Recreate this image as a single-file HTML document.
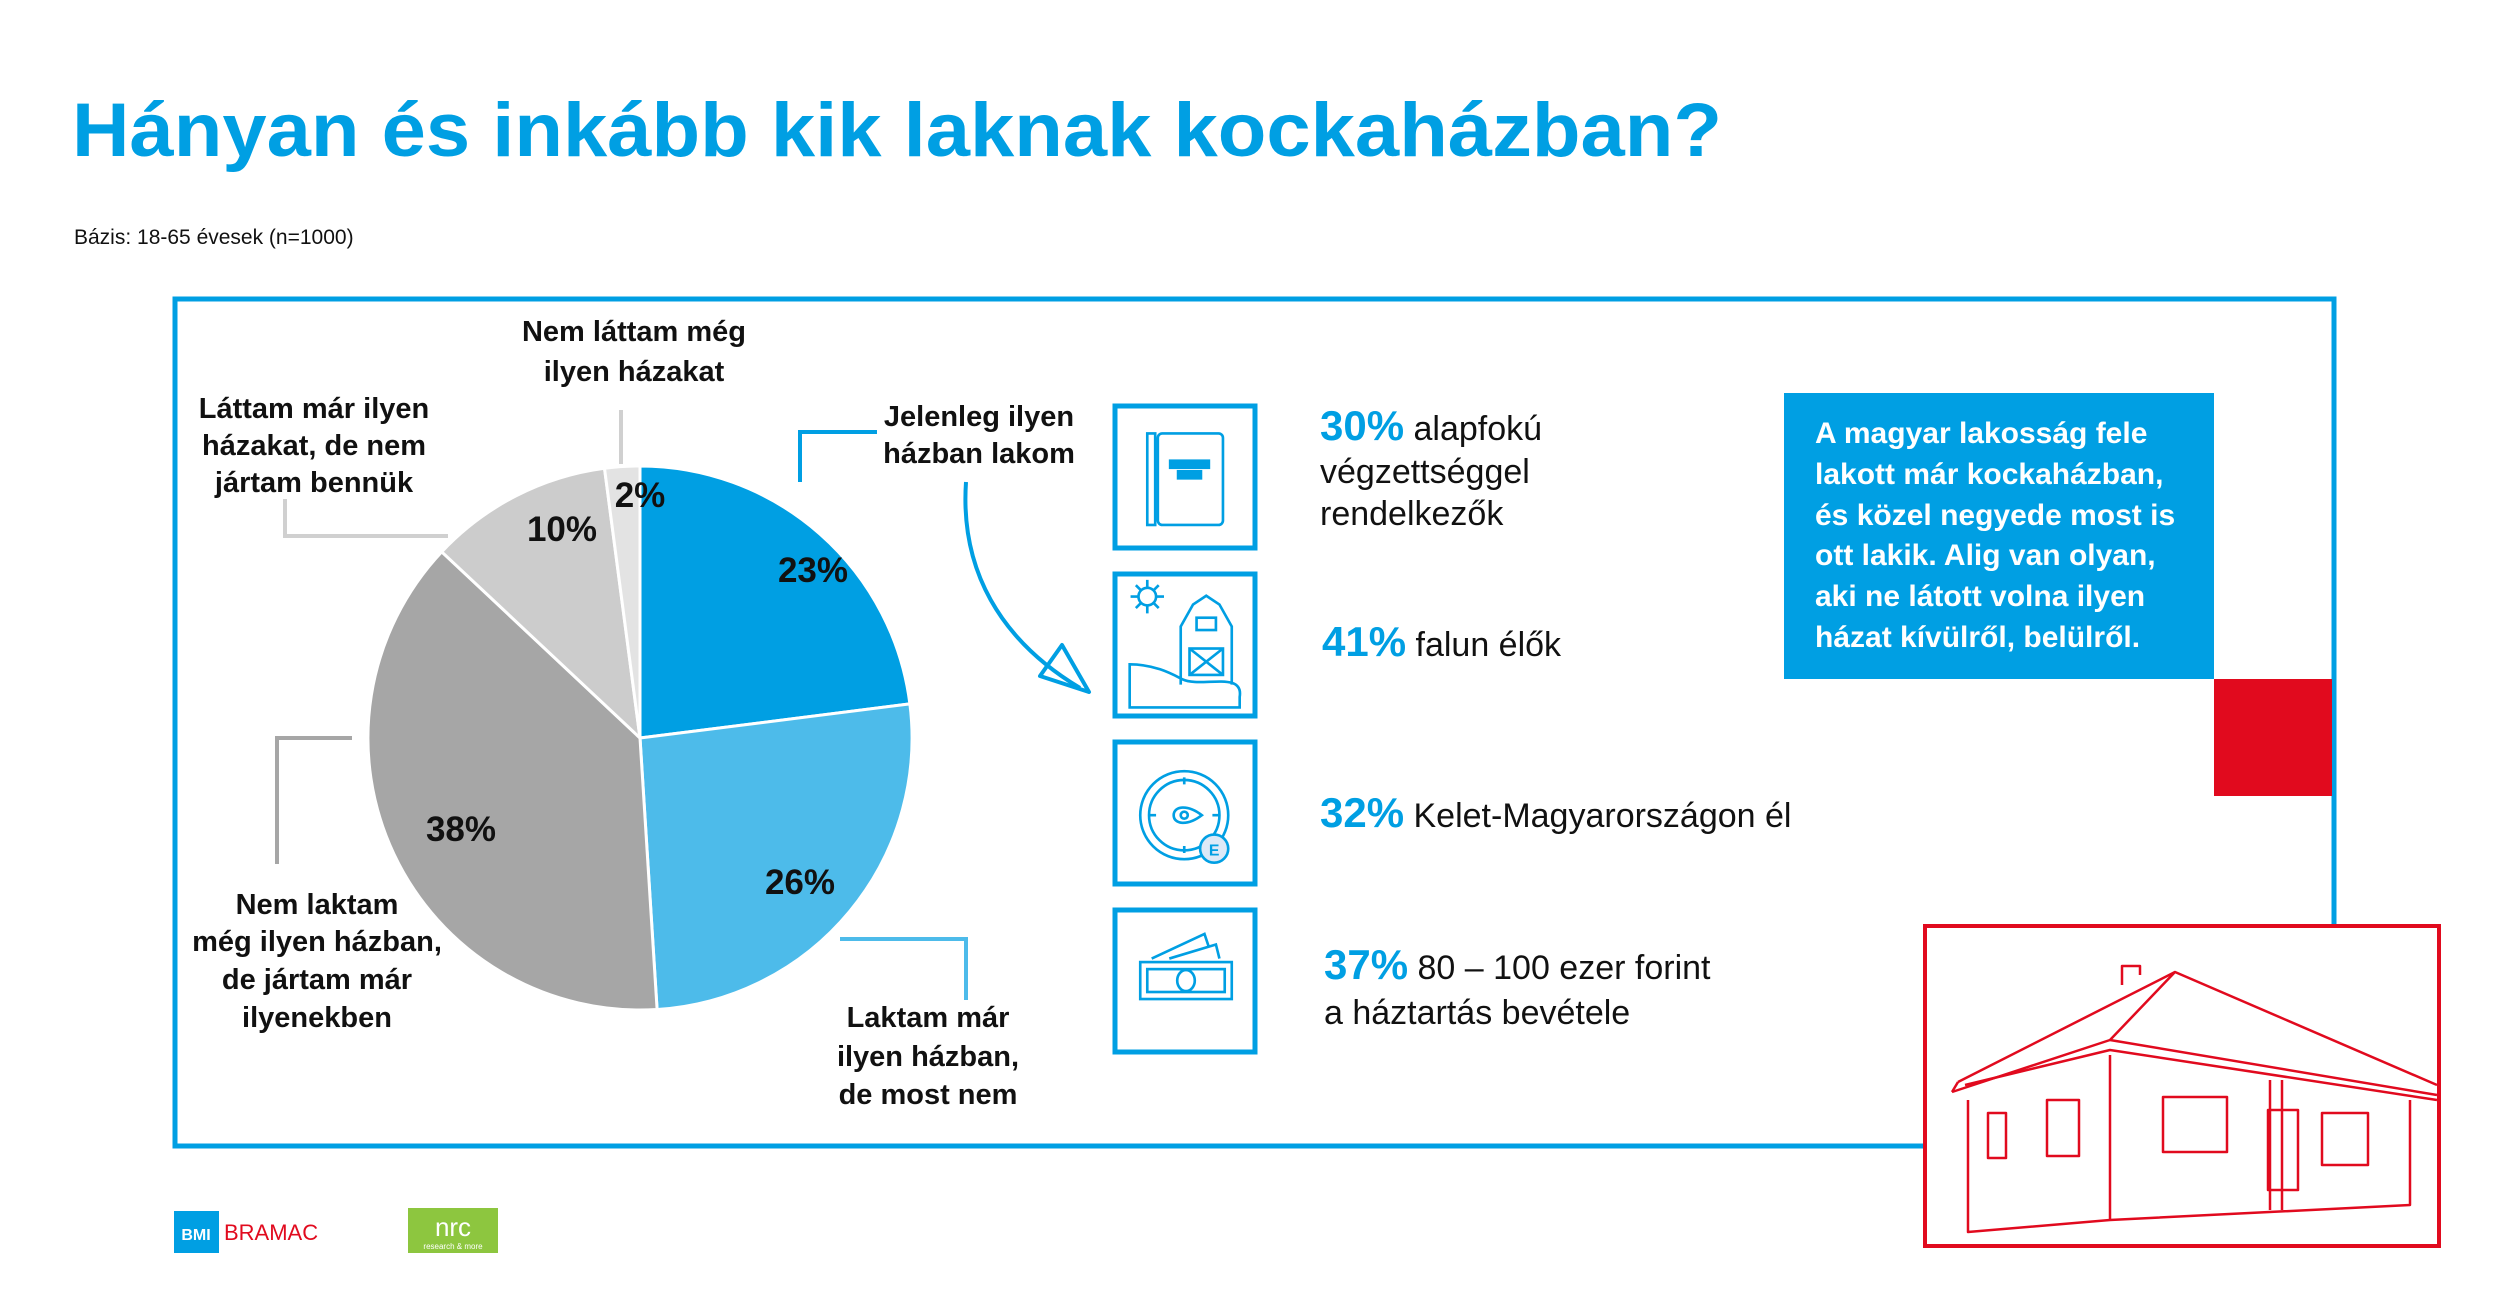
<!DOCTYPE html>
<html><head><meta charset="utf-8"><style>
html,body{margin:0;padding:0;background:#fff}
svg{display:block}
text{font-family:"Liberation Sans",sans-serif}
</style></head><body>
<svg width="2500" height="1313" viewBox="0 0 2500 1313" xmlns="http://www.w3.org/2000/svg">
<rect width="2500" height="1313" fill="#fff"/>
<text x="72" y="156" font-size="76" font-weight="bold" fill="#009FE3" textLength="1650" lengthAdjust="spacingAndGlyphs">Hányan és inkább kik laknak kockaházban?</text>
<text x="74" y="244" font-size="21" fill="#111">Bázis: 18-65 évesek (n=1000)</text>

<!-- frame -->
<polyline points="1926,1146 175,1146 175,299 2334,299 2334,926" fill="none" stroke="#009FE3" stroke-width="5"/>

<!-- pie -->
<g stroke="#fff" stroke-width="3" stroke-linejoin="round">
<path d="M640,738 L640,466 A272,272 0 0 1 909.9,703.9 Z" fill="#009FE3"/>
<path d="M640,738 L909.9,703.9 A272,272 0 0 1 657.1,1009.5 Z" fill="#4DBBEA"/>
<path d="M640,738 L657.1,1009.5 A272,272 0 0 1 441.7,551.8 Z" fill="#A6A6A6"/>
<path d="M640,738 L441.7,551.8 A272,272 0 0 1 604.5,468.3 Z" fill="#CCCCCC"/>
<path d="M640,738 L604.5,468.3 A272,272 0 0 1 640,466 Z" fill="#E3E3E3"/>
</g>
<g font-size="35" font-weight="bold" fill="#111" text-anchor="middle">
<text x="813" y="582">23%</text>
<text x="800" y="894">26%</text>
<text x="461" y="841">38%</text>
<text x="562" y="541">10%</text>
<text x="640" y="507">2%</text>
</g>

<!-- callouts -->
<g font-size="29" font-weight="bold" fill="#111" text-anchor="middle">
<text x="634" y="341">Nem láttam még</text><text x="634" y="381">ilyen házakat</text>
<text x="314" y="418">Láttam már ilyen</text><text x="314" y="455">házakat, de nem</text><text x="314" y="492">jártam bennük</text>
<text x="979" y="426">Jelenleg ilyen</text><text x="979" y="463">házban lakom</text>
<text x="317" y="914">Nem laktam</text><text x="317" y="951">még ilyen házban,</text><text x="317" y="989">de jártam már</text><text x="317" y="1027">ilyenekben</text>
<text x="928" y="1027">Laktam már</text><text x="928" y="1066">ilyen házban,</text><text x="928" y="1104">de most nem</text>
</g>
<g fill="none" stroke-width="4">
<line x1="621" y1="410" x2="621" y2="464" stroke="#d0d0d0"/>
<polyline points="285,499 285,536 448,536" stroke="#d0d0d0"/>
<polyline points="800,482 800,432 877,432" stroke="#009FE3"/>
<polyline points="277,864 277,738 352,738" stroke="#A6A6A6"/>
<polyline points="840,939 966,939 966,1000" stroke="#4DBBEA"/>
<path d="M966,482 C960,570 1000,640 1080,688" stroke="#009FE3"/>
<path d="M1089,692 L1040,676 L1062,645 Z" stroke="#009FE3" stroke-linejoin="round"/>
</g>

<!-- icon boxes -->
<g fill="none" stroke="#009FE3" stroke-width="5">
<rect x="1115" y="406" width="140" height="142"/>
<rect x="1115" y="574" width="140" height="142"/>
<rect x="1115" y="742" width="140" height="142"/>
<rect x="1115" y="910" width="140" height="142"/>
</g>
<g fill="none" stroke="#009FE3" stroke-width="3">
<g transform="translate(1186,477) scale(0.88) translate(-1184,-489.5)">
<rect x="1140" y="440" width="9" height="104"/>
<rect x="1152" y="440" width="74" height="104" rx="5"/>
<rect x="1166" y="471" width="44" height="8" fill="#009FE3"/>
<rect x="1175" y="483" width="26" height="8" fill="#009FE3"/>
</g>
<g transform="translate(1186,645) scale(0.88) translate(-1184,-681)">
<circle cx="1140" cy="626" r="10"/>
<path d="M1121,626h8M1151,626h8M1140,607v8M1140,637v8M1127,613l6,6M1147,633l6,6M1127,639l6,-6M1147,619l6,-6"/>
<path d="M1178,726 V660 L1192,635 L1207,625 L1222,635 L1236,660 V726"/>
<rect x="1196" y="650" width="22" height="14"/>
<rect x="1188" y="685" width="38" height="30"/>
<path d="M1188,685 L1226,715 M1226,685 L1188,715"/>
<path d="M1120,732 V703 C1150,703 1170,715 1180,720 C1200,730 1250,710 1245,740 V752 H1120 Z"/>
</g>
<g transform="translate(1186,813) scale(0.88) translate(-1184,-872.5)">
<circle cx="1182" cy="875" r="50"/><circle cx="1182" cy="875" r="40"/>
<path d="M1170,875 C1170,865 1185,862 1202,875 C1185,888 1170,885 1170,875 Z"/>
<circle cx="1182" cy="875" r="4"/>
<path d="M1182,832v8M1182,910v8M1142,875h8M1214,875h8"/>
<circle cx="1216" cy="913" r="16" fill="#dce9f7"/>
<text x="1216" y="921" font-size="18" font-weight="bold" fill="#009FE3" stroke="none" text-anchor="middle">E</text>
</g>
<g transform="translate(1186,981) scale(0.88) translate(-1184,-1063.5)">
<rect x="1132" y="1042" width="104" height="42"/>
<rect x="1140" y="1050" width="88" height="26"/>
<ellipse cx="1184" cy="1063" rx="10" ry="12"/>
<path d="M1145,1038 L1205,1010 L1210,1025 M1165,1038 L1218,1022 L1222,1038"/>
</g>
</g>

<!-- stats -->
<g font-size="34" fill="#111">
<text x="1320" y="440"><tspan font-weight="bold" font-size="42" fill="#009FE3">30%</tspan> alapfokú</text>
<text x="1320" y="483">végzettséggel</text>
<text x="1320" y="525">rendelkezők</text>
<text x="1322" y="656"><tspan font-weight="bold" font-size="42" fill="#009FE3">41%</tspan> falun élők</text>
<text x="1320" y="827"><tspan font-weight="bold" font-size="42" fill="#009FE3">32%</tspan> Kelet-Magyarországon él</text>
<text x="1324" y="979"><tspan font-weight="bold" font-size="42" fill="#009FE3">37%</tspan> 80 – 100 ezer forint</text>
<text x="1324" y="1024">a háztartás bevétele</text>
</g>

<!-- blue box -->
<rect x="1784" y="393" width="430" height="286" fill="#009FE3"/>
<g font-size="30" font-weight="bold" fill="#fff">
<text x="1815" y="443">A magyar lakosság fele</text>
<text x="1815" y="484">lakott már kockaházban,</text>
<text x="1815" y="525">és közel negyede most is</text>
<text x="1815" y="565">ott lakik. Alig van olyan,</text>
<text x="1815" y="606">aki ne látott volna ilyen</text>
<text x="1815" y="647">házat kívülről, belülről.</text>
</g>
<rect x="2214" y="679" width="118" height="117" fill="#E10A1E"/>

<!-- house frame -->
<rect x="1925" y="926" width="514" height="320" fill="#fff" stroke="#E10A1E" stroke-width="4"/>
<g fill="none" stroke="#E10A1E" stroke-width="2.5" stroke-linejoin="round">
<path d="M1968,1100 V1232 L2110,1220 L2410,1205 V1100"/>
<path d="M2110,1055 V1220"/>
<path d="M1952,1092 L2110,1040 L2437,1095"/>
<path d="M1958,1082 L2175,972 L2437,1085"/>
<path d="M1952,1092 L1958,1082 M2110,1040 L2175,972"/>
<path d="M1965,1085 L2110,1050 L2437,1100"/>
<path d="M2122,985 V966 H2140 V975"/>
<path d="M2270,1080 V1210 M2282,1080 V1210"/>
<rect x="1988" y="1113" width="18" height="45"/>
<rect x="2047" y="1100" width="32" height="56"/>
<rect x="2163" y="1097" width="64" height="55"/>
<rect x="2322" y="1113" width="46" height="52"/>
<rect x="2268" y="1110" width="30" height="80"/>
</g>

<!-- logos -->
<rect x="174" y="1211" width="45" height="42" fill="#009FE3"/>
<text x="196" y="1240" font-size="16" font-weight="bold" fill="#fff" text-anchor="middle">BMI</text>
<text x="224" y="1240" font-size="22" fill="#E10A1E">BRAMAC</text>
<rect x="408" y="1208" width="90" height="45" fill="#8DC63F"/>
<text x="453" y="1236" font-size="26" fill="#fff" text-anchor="middle">nrc</text>
<text x="453" y="1249" font-size="8" fill="#fff" text-anchor="middle">research &amp; more</text>
</svg>
</body></html>
